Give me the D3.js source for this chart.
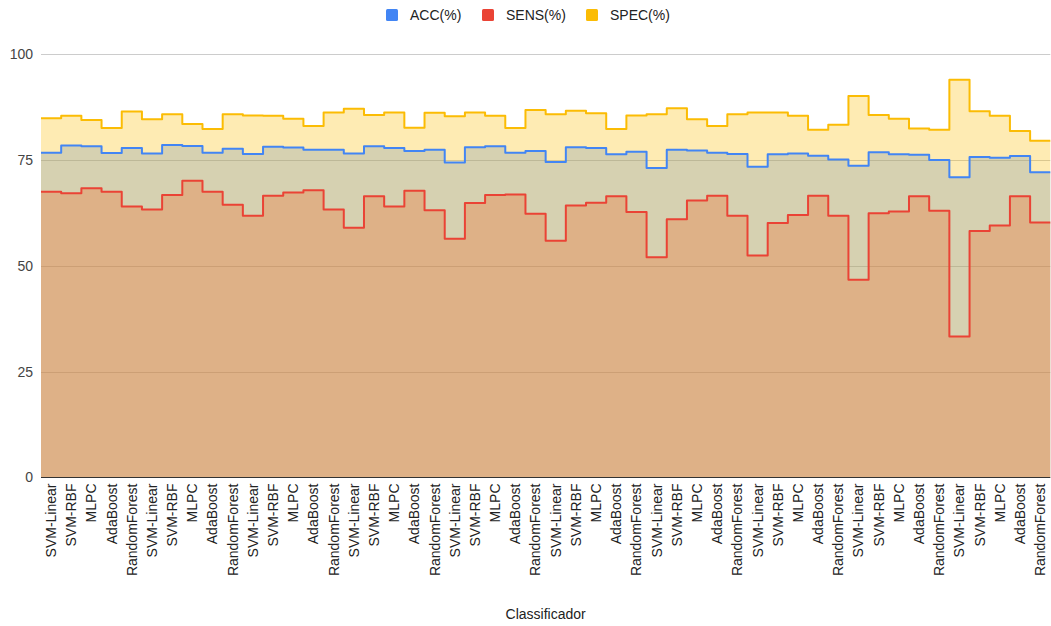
<!DOCTYPE html>
<html>
<head>
<meta charset="utf-8">
<script src="https://cdn.jsdelivr.net/npm/d3@7"></script>
<style>
  html, body { margin: 0; padding: 0; background: #fff; }
  svg { display: block; font-family: Arial, "Liberation Sans", sans-serif; }
</style>
</head>
<body>
<svg id="chart" width="1051" height="626"></svg>
<script>
// Classifiers, repeated across the ten evaluation runs
const classifierNames = ["SVM-Linear", "SVM-RBF", "MLPC", "AdaBoost", "RandomForest"];
const categories = d3.range(50).map(i => classifierNames[i % 5]);

// Metric series (%)
const accValues = [
  76.7, 78.4, 78.2, 76.6, 77.8, 76.5, 78.5, 78.3, 76.7, 77.6,
  76.4, 78.1, 77.9, 77.4, 77.4, 76.5, 78.2, 77.8, 77.1, 77.4,
  74.4, 78.0, 78.2, 76.7, 77.1, 74.5, 78.0, 77.8, 76.3, 76.9,
  73.1, 77.4, 77.2, 76.7, 76.4, 73.4, 76.3, 76.5, 76.0, 75.1,
  73.6, 76.8, 76.3, 76.2, 75.0, 70.9, 75.7, 75.5, 75.9, 72.1
];
const sensValues = [
  67.5, 67.1, 68.3, 67.5, 64.0, 63.3, 66.7, 70.1, 67.5, 64.4,
  61.8, 66.5, 67.3, 67.8, 63.3, 59.0, 66.4, 64.0, 67.7, 63.1,
  56.4, 64.8, 66.7, 66.8, 62.3, 55.9, 64.2, 64.9, 66.4, 62.7,
  52.0, 61.0, 65.4, 66.5, 61.8, 52.4, 60.1, 62.0, 66.5, 61.8,
  46.7, 62.4, 62.8, 66.4, 63.0, 33.3, 58.2, 59.5, 66.4, 60.2
];
const specValues = [
  84.8, 85.4, 84.4, 82.5, 86.4, 84.6, 85.8, 83.5, 82.3, 85.8,
  85.5, 85.4, 84.7, 83.0, 86.2, 87.1, 85.6, 86.2, 82.6, 86.1,
  85.3, 86.2, 85.4, 82.5, 86.8, 85.8, 86.6, 86.0, 82.3, 85.5,
  85.8, 87.2, 84.6, 83.0, 85.8, 86.2, 86.2, 85.4, 82.1, 83.3,
  90.1, 85.6, 84.7, 82.4, 82.1, 93.9, 86.5, 85.4, 81.8, 79.5
];
const seriesNames = ["ACC(%)", "SENS(%)", "SPEC(%)"];
const yTicks = [0, 25, 50, 75, 100];
const xTitle = "Classificador";

const colors = ["#4285F4", "#EA4335", "#FBBC04"];
const series = [accValues, sensValues, specValues].map((values, k) => ({
  name: seriesNames[k], values, color: colors[k]
}));

const svg = d3.select("#chart");
const plot = { left: 41, right: 1050.3, top: 54, bottom: 477.5 };

const x = d3.scaleBand()
  .domain(d3.range(categories.length))
  .range([plot.left, plot.right])
  .paddingInner(0).paddingOuter(0);

const y = d3.scaleLinear().domain([0, 100]).range([plot.bottom, plot.top]);

// Horizontal gridlines
svg.append("g")
  .selectAll("line")
  .data(yTicks.filter(t => t !== 0))
  .join("line")
  .attr("x1", plot.left).attr("x2", plot.right)
  .attr("y1", d => Math.round(y(d)) + 0.5).attr("y2", d => Math.round(y(d)) + 0.5)
  .attr("stroke", "#cccccc").attr("stroke-width", 1);

// Step points: each category spans its whole band
const stepPoints = values => {
  const pts = [];
  values.forEach((v, i) => {
    pts.push([x(i), v]);
    pts.push([x(i) + x.bandwidth(), v]);
  });
  return pts;
};

const area = d3.area()
  .x(d => d[0]).y0(y(0)).y1(d => y(d[1]))
  .curve(d3.curveLinear);
const line = d3.line()
  .x(d => d[0]).y(d => y(d[1]))
  .curve(d3.curveLinear);

// Filled areas (translucent), then outlines on top
svg.append("g")
  .selectAll("path")
  .data(series)
  .join("path")
  .attr("d", s => area(stepPoints(s.values)))
  .attr("fill", s => s.color)
  .attr("fill-opacity", 0.3);

svg.append("g")
  .selectAll("path")
  .data(series)
  .join("path")
  .attr("d", s => line(stepPoints(s.values)))
  .attr("fill", "none")
  .attr("stroke", s => s.color)
  .attr("stroke-width", 2)
  .attr("stroke-linejoin", "round");

// Baseline at zero
svg.append("line")
  .attr("x1", plot.left).attr("x2", plot.right)
  .attr("y1", Math.round(y(0)) - 0.5).attr("y2", Math.round(y(0)) - 0.5)
  .attr("stroke", "#333333").attr("stroke-width", 1);

// Y axis labels
const yAxis = svg.append("g")
  .attr("transform", `translate(${plot.left - 6},0)`)
  .call(d3.axisLeft(y).tickValues(yTicks).tickSize(0).tickPadding(2));
yAxis.select(".domain").remove();
yAxis.selectAll("text")
  .attr("font-size", 14).attr("fill", "#444444").attr("font-family", null);

// X axis labels, rotated
const xAxis = svg.append("g")
  .attr("transform", `translate(0,${plot.bottom + 6})`)
  .call(d3.axisBottom(x).tickFormat(i => categories[i]).tickSize(0));
xAxis.select(".domain").remove();
xAxis.selectAll("text")
  .attr("font-size", 14).attr("fill", "#222222").attr("font-family", null)
  .attr("text-anchor", "end")
  .attr("transform", "rotate(-90)")
  .attr("x", 0).attr("y", 0).attr("dx", 0).attr("dy", "0.35em");

// X axis title
svg.append("text")
  .attr("x", (plot.left + plot.right) / 2)
  .attr("y", 619)
  .attr("text-anchor", "middle")
  .attr("font-size", 14).attr("fill", "#222222")
  .text(xTitle);

// Legend
const legendX = [386, 482, 586];
const legend = svg.append("g")
  .selectAll("g")
  .data(series)
  .join("g")
  .attr("transform", (d, i) => `translate(${legendX[i]},9)`);
legend.append("rect")
  .attr("width", 12).attr("height", 12).attr("rx", 1.5)
  .attr("fill", d => d.color);
legend.append("text")
  .attr("x", 24).attr("y", 11)
  .attr("font-size", 14).attr("fill", "#222222")
  .text(d => d.name);
</script>
</body>
</html>
